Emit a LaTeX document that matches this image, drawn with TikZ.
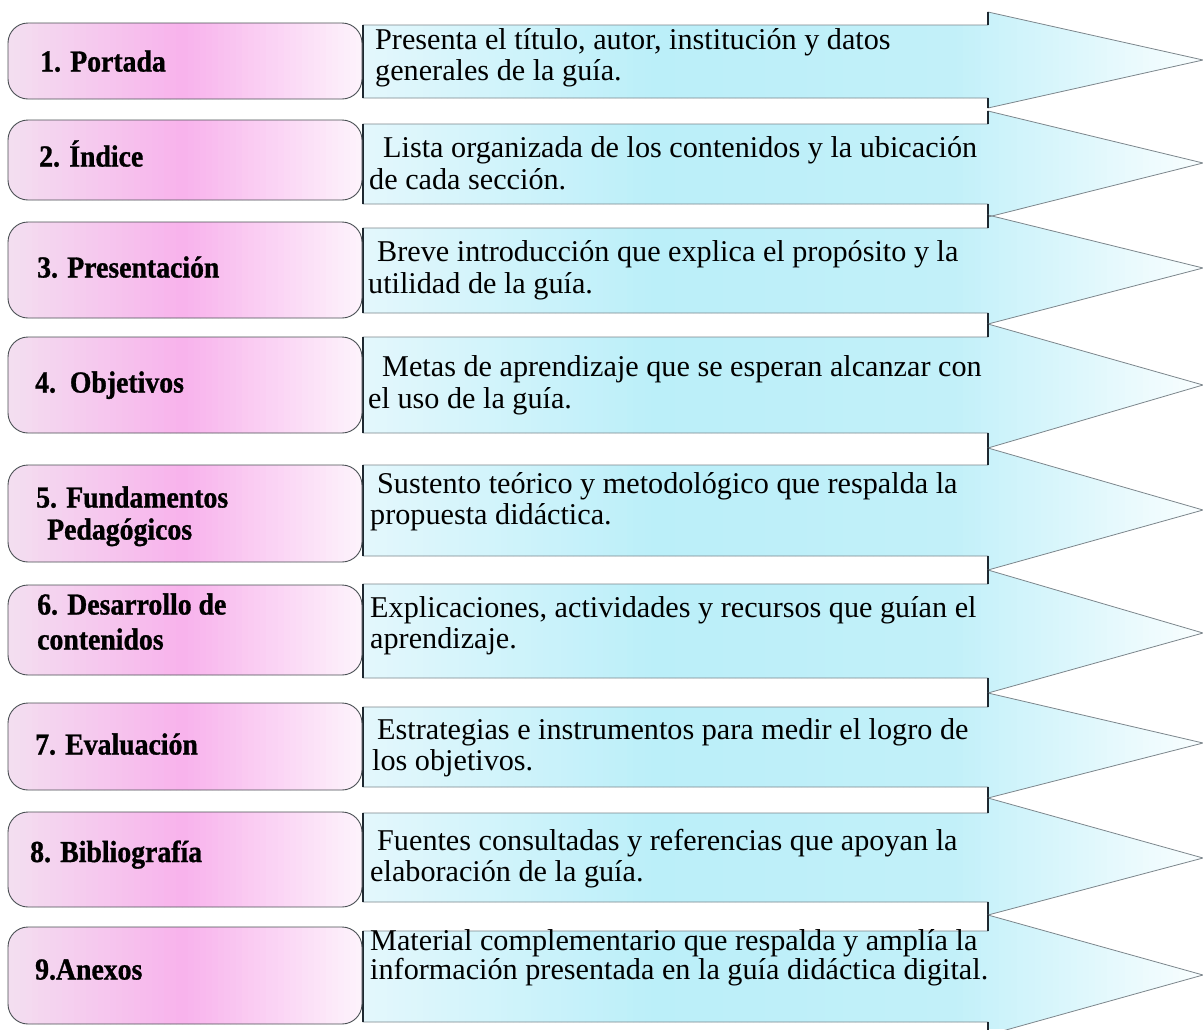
\documentclass[tikz,border=0pt]{standalone}
\usepackage{fontspec}
\setmainfont{Liberation Serif}
\newfontfamily\descfont{Liberation Serif}
\newfontfamily\lblfont[FakeStretch=0.91,FakeBold=1.0]{Liberation Serif}
\definecolor{pinkL}{HTML}{F3DEF0}
\definecolor{pinkM}{HTML}{F8B2EC}
\definecolor{pinkR}{HTML}{FDF5FC}
\definecolor{cyanL}{HTML}{E3F7FC}
\definecolor{cyanM}{HTML}{BBEFF9}
\definecolor{cyanN}{HTML}{C2F0F9}
\definecolor{cyanR}{HTML}{FAFEFF}
\definecolor{edgegray}{HTML}{7C868C}
\definecolor{edgedark}{HTML}{1E2830}
\begin{document}
\begin{tikzpicture}[x=1pt,y=-1pt,
  pinkbox/.style={draw=edgegray!60!black, line width=0.9pt, rounded corners=20pt,
    minimum width=354pt, inner sep=0pt},
  lbl/.style={anchor=base west, inner sep=0pt, font=\lblfont\fontsize{30.5}{33}\selectfont\bfseries},
  desc/.style={anchor=base west, inner sep=0pt, font=\descfont\fontsize{30.2}{31}\selectfont},
  cyanarrow/.style={draw=edgegray, line width=0.8pt},
  darkedge/.style={draw=edgedark, line width=1.3pt}
]
\useasboundingbox (0,0) rectangle (1203,1029);
\clip (0,0) rectangle (1203,1029);
\fill[white] (0,0) rectangle (1203,1029);

% arrow fills (horizontal gradient, clipped to all arrow shapes)
\begin{scope}
\clip \foreach \t/\b/\ht/\hb/\tp in {25/98/12/108/60, 124/204/111/217/163, 228/313/215/324/268,
  337/433/324/448/385, 465/556/448/570/510, 584/678/570/693/633, 707/787/693/798/743,
  813/902/798/915/858, 931/1022/915/1035/975}
  { (363,\t) -- (988,\t) -- (988,\ht) -- (1203,\tp) -- (988,\hb) -- (988,\b) -- (363,\b) -- cycle };
\foreach \i in {0,...,140}{%
  \pgfmathsetmacro\xa{363+6*\i}%
  \ifdim\xa pt<650pt
    \pgfmathtruncatemacro\pp{(\xa-363)/287*100}\colorlet{stripcol}{cyanM!\pp!cyanL}%
  \else\ifdim\xa pt<950pt
    \pgfmathtruncatemacro\pp{(\xa-650)/300*100}\colorlet{stripcol}{cyanN!\pp!cyanM}%
  \else
    \pgfmathtruncatemacro\pp{min(100,(\xa-950)/253*100)}\colorlet{stripcol}{cyanR!\pp!cyanN}%
  \fi\fi
  \fill[stripcol] (\xa,0) rectangle ++(7,1029);
}
\end{scope}

% arrow outlines
\foreach \t/\b/\ht/\hb/\tp in {25/98/12/108/60, 124/204/111/217/163, 228/313/215/324/268,
  337/433/324/448/385, 465/556/448/570/510, 584/678/570/693/633, 707/787/693/798/743,
  813/902/798/915/858, 931/1022/915/1035/975}
{
  \draw[cyanarrow] (363,\t) -- (988,\t) -- (988,\ht) -- (1203,\tp) -- (988,\hb) -- (988,\b) -- (363,\b) -- cycle;
  \draw[darkedge] (363,\t) -- (363,\b);
  \draw[darkedge] (988,\t) -- (988,\ht) (988,\b) -- (988,\hb);
}

% pink box fills
\begin{scope}
\clip[rounded corners=20pt] (8,23) rectangle (362,99) (8,120) rectangle (362,200)
  (8,222) rectangle (362,318) (8,337) rectangle (362,433) (8,465) rectangle (362,562)
  (8,585) rectangle (362,675) (8,703) rectangle (362,790) (8,812) rectangle (362,907)
  (8,927) rectangle (362,1024);
\foreach \i in {0,...,59}{%
  \pgfmathsetmacro\xa{8+6*\i}%
  \ifdim\xa pt<180pt
    \pgfmathtruncatemacro\pp{(\xa-8)/172*100}\colorlet{stripcol}{pinkM!\pp!pinkL}%
  \else
    \pgfmathtruncatemacro\pp{min(100,(\xa-180)/182*100)}\colorlet{stripcol}{pinkR!\pp!pinkM}%
  \fi
  \fill[stripcol] (\xa,0) rectangle ++(7,1029);
}
\end{scope}

% pink boxes
\node[pinkbox, minimum height=76pt] (b1) at (185,61) {};
\node[pinkbox, minimum height=80pt] (b2) at (185,160) {};
\node[pinkbox, minimum height=96pt] (b3) at (185,270) {};
\node[pinkbox, minimum height=96pt] (b4) at (185,385) {};
\node[pinkbox, minimum height=97pt] (b5) at (185,513.5) {};
\node[pinkbox, minimum height=90pt] (b6) at (185,630) {};
\node[pinkbox, minimum height=87pt] (b7) at (185,746.5) {};
\node[pinkbox, minimum height=95pt] (b8) at (185,859.5) {};
\node[pinkbox, minimum height=97pt] (b9) at (185,975.5) {};

% labels
\node[lbl] (l1) at (40,71.5) {1. Portada};
\node[lbl] (l2) at (39,166.5) {2. Índice};
\node[lbl] (l3) at (37,277.5) {3. Presentación};
\node[lbl] (l4) at (35,392.5) {4.\ \ Objetivos};
\node[lbl] (l5a) at (36,507.5) {5. Fundamentos};
\node[lbl] (l5b) at (47,539.5) {Pedagógicos};
\node[lbl] (l6a) at (37,614.5) {6. Desarrollo de};
\node[lbl] (l6b) at (37,649.5) {contenidos};
\node[lbl] (l7) at (35,754.5) {7. Evaluación};
\node[lbl] (l8) at (30,862) {8. Bibliografía};
\node[lbl] (l9) at (35,979.5) {9.Anexos};

% descriptions
\node[desc] (d1a) at (375,49) {Presenta el título, autor, institución y datos};
\node[desc] (d1b) at (375,80) {generales de la guía.};
\node[desc] (d2a) at (383,157) {Lista organizada de los contenidos y la ubicación};
\node[desc] (d2b) at (369,189) {de cada sección.};
\node[desc] (d3a) at (377,261) {Breve introducción que explica el propósito y la};
\node[desc] (d3b) at (368,293) {utilidad de la guía.};
\node[desc] (d4a) at (382,376) {Metas de aprendizaje que se esperan alcanzar con};
\node[desc] (d4b) at (368,408) {el uso de la guía.};
\node[desc] (d5a) at (377,493) {Sustento teórico y metodológico que respalda la};
\node[desc] (d5b) at (370,524) {propuesta didáctica.};
\node[desc] (d6a) at (370,617) {Explicaciones, actividades y recursos que guían el};
\node[desc] (d6b) at (370,648) {aprendizaje.};
\node[desc] (d7a) at (377,739) {Estrategias e instrumentos para medir el logro de};
\node[desc] (d7b) at (372,770) {los objetivos.};
\node[desc] (d8a) at (377,850) {Fuentes consultadas y referencias que apoyan la};
\node[desc] (d8b) at (370,881) {elaboración de la guía.};
\node[desc] (d9a) at (370,950) {Material complementario que respalda y amplía la};
\node[desc] (d9b) at (370,979) {información presentada en la guía didáctica digital.};
\end{tikzpicture}
\end{document}
